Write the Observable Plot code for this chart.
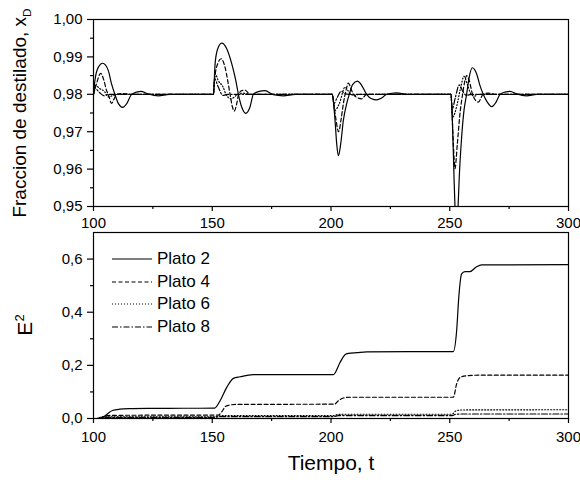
<!DOCTYPE html>
<html>
<head>
<meta charset="utf-8">
<script src="https://cdn.jsdelivr.net/npm/d3@7"></script>
<script src="https://cdn.jsdelivr.net/npm/@observablehq/plot@0.6"></script>
<style>
  body { margin: 0; background: white; }
  #chart { position: relative; width: 580px; height: 480px; background: white; font-family: "Liberation Sans", Arial, sans-serif; color: black; }
  #chart svg { position: absolute; left: 0; }
  .lbl { position: absolute; white-space: nowrap; line-height: 1; }
  .lbl sub, .lbl sup { font-size: 0.62em; }
  .leg { position: absolute; left: 112px; top: 248px; }
  .leg div { height: 22.5px; display: flex; align-items: center; font-size: 17px; }
  .leg svg { position: static !important; margin-right: 5px; }
</style>
</head>
<body>
<div id="chart"></div>
<script>
// ---------- data ----------
const seriesNames = ["Plato 2", "Plato 4", "Plato 6", "Plato 8"];
const dashes = [null, "4,2.5", "1,2", "6,2,1.5,2"];

// top panel: x_D vs t
const p2Top_t = [100,100.6,102,103.9,106.2,107.6,109,110.5,112.3,114,116.1,119.9,123,127.3,132,
  150,150.5,151.2,152.3,154,156.1,158.2,159.9,161,162.4,164.1,165.9,167.3,169.4,172.2,175.7,179.9,185,
  200,200.5,201.7,202.4,203.1,204.1,205.2,206.6,207.7,209.1,211.1,212.9,215,217.1,219.2,221.3,223.4,227.7,232,
  250,250.5,251.2,251.8,252.2,252.8,253.5,254,255,256,257.1,258.2,259.5,261.3,262.7,264.1,265.8,267.7,269.5,271.2,273.3,275.4,278.2,282.4,286.6,300];
const p2Top_v = [0.980,0.9837,0.9872,0.9883,0.9864,0.9828,0.980,0.9775,0.9765,0.9775,0.980,0.9808,0.9801,0.9796,0.980,
  0.980,0.980,0.9882,0.9922,0.9937,0.9922,0.9882,0.9837,0.980,0.9766,0.9749,0.9766,0.980,0.9807,0.9810,0.9799,0.9796,0.980,
  0.980,0.980,0.973,0.9668,0.9636,0.9668,0.973,0.9775,0.980,0.9826,0.9835,0.9824,0.980,0.9788,0.9785,0.979,0.980,0.9804,0.980,
  0.980,0.980,0.9712,0.9578,0.950,0.9445,0.950,0.9578,0.9685,0.9757,0.980,0.9846,0.9871,0.9855,0.9824,0.980,0.9779,0.9767,0.9779,0.980,0.9806,0.9808,0.9801,0.9796,0.980,0.980];

const p4Top_t = [100,101.3,103,104.4,105.5,106.2,107.6,109,110,112,116,
  150,150.5,150.9,152.3,153.7,155.4,156.5,157.5,158.5,159.3,160.3,161.1,162.4,163.8,165.9,
  200,200.5,201.8,203.2,204.3,205.2,206.3,207.3,208.7,209.4,211.1,212.9,215,
  250,250.5,251.5,252.2,253.2,254.3,255.4,256.4,257.1,258.2,259.6,262,264.1,266.2,269,300];
const p4Top_v = [0.980,0.9829,0.9856,0.9837,0.981,0.980,0.9776,0.9792,0.980,0.9802,0.980,
  0.980,0.980,0.9837,0.9882,0.9895,0.9872,0.9837,0.980,0.9766,0.9755,0.9775,0.980,0.981,0.9811,0.980,
  0.980,0.980,0.9745,0.970,0.9735,0.9775,0.981,0.983,0.981,0.980,0.9791,0.9788,0.980,
  0.980,0.980,0.9668,0.9601,0.9668,0.9748,0.980,0.9837,0.985,0.9837,0.980,0.9779,0.980,0.9803,0.980,0.980];

const p6Top_t = [100,100.6,102.7,104.8,106.2,108.3,110.5,
  150,150.5,151.2,152.5,154.6,155.8,157.9,160.8,163,166,
  200,200.5,201.6,203.5,205.9,208,210,212,
  250,250.5,251.2,253,254.5,256,257.5,259,260.5,262,300];
const p6Top_v = [0.980,0.9824,0.9815,0.9806,0.9793,0.9797,0.980,
  0.980,0.980,0.9855,0.9837,0.9819,0.980,0.9788,0.980,0.9803,0.980,
  0.980,0.980,0.9757,0.9775,0.9819,0.9802,0.9797,0.980,
  0.980,0.980,0.9739,0.977,0.9815,0.9848,0.9825,0.980,0.9795,0.980,0.980];

const p8Top_t = [100,100.7,102.5,104.5,106,
  150,150.5,151,152.5,154.5,156.5,
  200,200.5,201.2,202.5,204.3,206,207.5,
  250,250.5,251,252.3,254,255.5,257,259,300];
const p8Top_v = [0.980,0.9815,0.9805,0.9796,0.980,
  0.980,0.980,0.9841,0.982,0.9797,0.980,
  0.980,0.980,0.9775,0.979,0.9808,0.9801,0.980,
  0.980,0.980,0.976,0.979,0.9825,0.9808,0.9797,0.980,0.980];

// bottom panel: E^2 vs t
const p2Bot_t = [100,102.7,104.5,106.5,108,111,115,125,151,153.3,156.1,158.9,161.7,167.3,201,203.8,205.9,207.3,211,215,251.5,252.9,253.8,255,256.4,258.5,261.3,263.4,300];
const p2Bot_v = [0,0,0.008,0.022,0.030,0.035,0.037,0.038,0.039,0.067,0.117,0.151,0.157,0.165,0.165,0.211,0.240,0.245,0.248,0.251,0.252,0.330,0.456,0.544,0.553,0.553,0.571,0.578,0.579];

const p4Bot_t = [100,102.5,104,106,110,152.5,154,155.5,157,160,201.5,203,205.2,208,251.5,252.9,254.3,257.1,262,300];
const p4Bot_v = [0,0,0.006,0.011,0.012,0.013,0.025,0.045,0.050,0.053,0.054,0.066,0.077,0.080,0.080,0.130,0.154,0.161,0.163,0.163];

const p6Bot_t = [100,101.5,103,106,151,153,156,201,203,206,251,252.5,255,300];
const p6Bot_v = [0,0,0.005,0.006,0.006,0.010,0.011,0.011,0.015,0.016,0.016,0.028,0.032,0.033];

const p8Bot_t = [100,101.5,103,151,153,201,203,251,252.5,255,300];
const p8Bot_v = [0,0,0.004,0.004,0.007,0.007,0.011,0.011,0.016,0.017,0.017];

// ticks
const xTicks = [100, 150, 200, 250, 300];
const xMinor = [125, 175, 225, 275];
const yTopTicks = [0.95, 0.96, 0.97, 0.98, 0.99, 1.00];
const yTopMinor = [0.955, 0.965, 0.975, 0.985, 0.995];
const yBotTicks = [0, 0.2, 0.4, 0.6];
const yBotMinor = [0.1, 0.3, 0.5];

// ---------- build ----------
const rows = (ts, vs, s) => ts.map((t, i) => ({t, v: vs[i], s}));
const topSeries = [rows(p2Top_t, p2Top_v, 0), rows(p4Top_t, p4Top_v, 1), rows(p6Top_t, p6Top_v, 2), rows(p8Top_t, p8Top_v, 3)];
const botSeries = [rows(p2Bot_t, p2Bot_v, 0), rows(p4Bot_t, p4Bot_v, 1), rows(p6Bot_t, p6Bot_v, 2), rows(p8Bot_t, p8Bot_v, 3)];
const comma = f => d => d3.format(f)(d).replace(".", ",");
const font = "'Liberation Sans', Arial, sans-serif";

function lineMarks(series) {
  return series.map((data, i) => Plot.line(data, {
    x: "t", y: "v", stroke: "black", strokeWidth: 1.2,
    strokeDasharray: dashes[i], curve: "monotone-x", clip: true
  }));
}

const topPlot = Plot.plot({
  width: 580, height: 230,
  marginTop: 19, marginBottom: 24, marginLeft: 93, marginRight: 12,
  style: {fontFamily: font, fontSize: "15px", color: "black", background: "white", overflow: "visible"},
  x: {domain: [100, 300]},
  y: {domain: [0.95, 1.00]},
  marks: [
    ...lineMarks(topSeries),
    Plot.frame({stroke: "black", strokeWidth: 1.2}),
    Plot.axisX({ticks: xTicks, tickSize: 5, tickPadding: 6, tickFormat: d => String(d), label: null, strokeWidth: 1.2}),
    Plot.axisX({ticks: xMinor, tickSize: 3, tickFormat: () => "", label: null, strokeWidth: 1.2}),
    Plot.axisY({ticks: yTopTicks, tickSize: 6, tickPadding: 5, tickFormat: comma(".2f"), label: null, strokeWidth: 1.2}),
    Plot.axisY({ticks: yTopMinor, tickSize: 3, tickFormat: () => "", label: null, strokeWidth: 1.2})
  ]
});

const botPlot = Plot.plot({
  width: 580, height: 250,
  marginTop: 2, marginBottom: 62, marginLeft: 93, marginRight: 12,
  style: {fontFamily: font, fontSize: "15px", color: "black", background: "white", overflow: "visible"},
  x: {domain: [100, 300]},
  y: {domain: [0, 0.7]},
  marks: [
    ...lineMarks(botSeries),
    Plot.frame({stroke: "black", strokeWidth: 1.2}),
    Plot.axisX({ticks: xTicks, tickSize: 5, tickPadding: 8, tickFormat: d => String(d), label: null, strokeWidth: 1.2}),
    Plot.axisX({ticks: xMinor, tickSize: 3, tickFormat: () => "", label: null, strokeWidth: 1.2}),
    Plot.axisY({ticks: yBotTicks, tickSize: 6, tickPadding: 5, tickFormat: comma(".1f"), label: null, strokeWidth: 1.2}),
    Plot.axisY({ticks: yBotMinor, tickSize: 3, tickFormat: () => "", label: null, strokeWidth: 1.2})
  ]
});

const chart = document.getElementById("chart");
topPlot.style.top = "0px";
botPlot.style.top = "230px";
chart.appendChild(topPlot);
chart.appendChild(botPlot);

// axis titles
function addLabel(html, x, y, size, rotate) {
  const d = document.createElement("div");
  d.className = "lbl";
  d.innerHTML = html;
  d.style.fontSize = size + "px";
  d.style.left = x + "px";
  d.style.top = y + "px";
  d.style.transform = "translate(-50%,-50%)" + (rotate ? " rotate(-90deg)" : "");
  chart.appendChild(d);
}
addLabel("Fraccion de destilado, x<sub>D</sub>", 21, 112.5, 19, true);
addLabel("E<sup>2</sup>", 24, 325, 21, true);
addLabel("Tiempo, t", 331, 462, 21, false);

// legend
const leg = document.createElement("div");
leg.className = "leg";
seriesNames.forEach((name, i) => {
  const row = document.createElement("div");
  row.innerHTML = `<svg width="40" height="4"><line x1="0" x2="40" y1="2" y2="2" stroke="black" stroke-width="1.2" ${dashes[i] ? `stroke-dasharray="${dashes[i]}"` : ""}/></svg><span>${name}</span>`;
  leg.appendChild(row);
});
chart.appendChild(leg);
</script>
</body>
</html>
